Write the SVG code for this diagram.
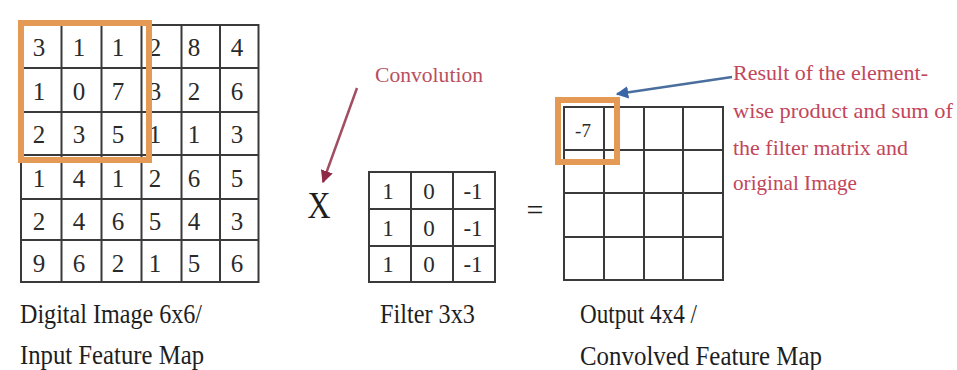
<svg xmlns="http://www.w3.org/2000/svg" width="957" height="370" viewBox="0 0 957 370">
<style>
  .grid { fill: none; stroke: #3a3a3a; stroke-width: 2; }
  .num { font-family: "Liberation Serif", "Times New Roman", serif; font-size: 25px; fill: #2a2a2a; text-anchor: middle; }
  .fnum { font-family: "Liberation Serif", "Times New Roman", serif; font-size: 23px; fill: #2a2a2a; text-anchor: middle; }
  .lbl { font-family: "Liberation Serif", "Times New Roman", serif; font-size: 28px; fill: #1e1e1e; }
  .red { font-family: "Liberation Serif", "Times New Roman", serif; font-size: 22px; fill: #c2465a; }
  .hl { fill: none; stroke: #e49a55; stroke-width: 6; }
  .op { font-family: "Liberation Serif", "Times New Roman", serif; fill: #1e1e1e; text-anchor: middle; }
</style>
<defs>
  <marker id="arrRed" viewBox="0 0 10 10" refX="9" refY="5" markerWidth="5" markerHeight="5" orient="auto" markerUnits="strokeWidth">
    <path d="M0,0 L10,5 L0,10 z" fill="#8e2a45"/>
  </marker>
  <marker id="arrBlue" viewBox="0 0 10 10" refX="9" refY="5" markerWidth="5" markerHeight="5" orient="auto" markerUnits="strokeWidth">
    <path d="M0,0 L10,5 L0,10 z" fill="#3b66a6"/>
  </marker>
</defs>
<rect width="957" height="370" fill="#ffffff"/>

<g id="input-grid">
  <rect class="grid" x="21" y="25" width="237.5" height="257"/>
  <path class="grid" d="M61.5,25 V282 M101.5,25 V282 M141.5,25 V282 M181.5,25 V282 M220,25 V282 M21,68 H258.5 M21,112 H258.5 M21,155 H258.5 M21,199 H258.5 M21,240 H258.5"/>
  <g class="num">
    <text x="39" y="56">3</text><text x="79" y="56">1</text><text x="118" y="56">1</text><text x="155" y="56">2</text><text x="194" y="56">8</text><text x="237" y="56">4</text>
    <text x="39" y="100">1</text><text x="79" y="100">0</text><text x="118" y="100">7</text><text x="155" y="100">3</text><text x="194" y="100">2</text><text x="237" y="100">6</text>
    <text x="39" y="143">2</text><text x="79" y="143">3</text><text x="118" y="143">5</text><text x="155" y="143">1</text><text x="194" y="143">1</text><text x="237" y="143">3</text>
    <text x="39" y="187">1</text><text x="79" y="187">4</text><text x="118" y="187">1</text><text x="155" y="187">2</text><text x="194" y="187">6</text><text x="237" y="187">5</text>
    <text x="39" y="230">2</text><text x="79" y="230">4</text><text x="118" y="230">6</text><text x="155" y="230">5</text><text x="194" y="230">4</text><text x="237" y="230">3</text>
    <text x="39" y="272">9</text><text x="79" y="272">6</text><text x="118" y="272">2</text><text x="155" y="272">1</text><text x="194" y="272">5</text><text x="237" y="272">6</text>
  </g>
  <rect class="hl" x="21" y="23" width="128" height="137"/>
  <text class="lbl" x="20" y="323" textLength="182" lengthAdjust="spacingAndGlyphs">Digital Image 6x6/</text>
  <text class="lbl" x="20" y="364" textLength="184" lengthAdjust="spacingAndGlyphs">Input Feature Map</text>
</g>

<g id="operator-x">
  <text class="op" x="319" y="218" font-size="38" textLength="23" lengthAdjust="spacingAndGlyphs">X</text>
</g>

<g id="convolution-label">
  <text class="red" x="375" y="82" textLength="108" lengthAdjust="spacingAndGlyphs" style="fill:#b94f60">Convolution</text>
</g>

<g id="filter">
  <rect class="grid" x="369" y="172" width="126" height="110"/>
  <path class="grid" d="M411,172 V282 M453,172 V282 M369,209 H495 M369,246 H495"/>
  <g class="fnum">
    <text x="388" y="199">1</text><text x="429" y="199">0</text><text x="473" y="199">-1</text>
    <text x="388" y="236">1</text><text x="429" y="236">0</text><text x="473" y="236">-1</text>
    <text x="388" y="272">1</text><text x="429" y="272">0</text><text x="473" y="272">-1</text>
  </g>
  <text class="lbl" x="380" y="323" textLength="95" lengthAdjust="spacingAndGlyphs">Filter 3x3</text>
</g>

<g id="operator-eq">
  <text class="op" x="535" y="220" font-size="30">=</text>
</g>

<g id="output-grid">
  <rect class="grid" x="564" y="107" width="159" height="173"/>
  <path class="grid" d="M604,107 V280 M644,107 V280 M683,107 V280 M564,150 H723 M564,193 H723 M564,237 H723"/>
  <text class="fnum" x="583" y="137" style="font-size:19px">-7</text>
  <rect class="hl" x="558" y="100" width="59" height="62"/>
  <text class="lbl" x="580" y="323" textLength="117" lengthAdjust="spacingAndGlyphs">Output 4x4 /</text>
  <text class="lbl" x="580" y="365" textLength="242" lengthAdjust="spacingAndGlyphs">Convolved Feature Map</text>
</g>

<g id="result-note">
  <text class="red" x="733" y="80" textLength="195" lengthAdjust="spacingAndGlyphs">Result of the element-</text>
  <text class="red" x="733" y="118" textLength="220" lengthAdjust="spacingAndGlyphs">wise product and sum of</text>
  <text class="red" x="733" y="155" textLength="175" lengthAdjust="spacingAndGlyphs">the filter matrix and</text>
  <text class="red" x="733" y="190" textLength="124" lengthAdjust="spacingAndGlyphs">original Image</text>
</g>

<g id="connectors">
  <line x1="357" y1="88" x2="323" y2="182" stroke="#a24e62" stroke-width="2.5" marker-end="url(#arrRed)"/>
  <line x1="732" y1="77" x2="617" y2="94" stroke="#4a6e9e" stroke-width="2.5" marker-end="url(#arrBlue)"/>
</g>
</svg>
